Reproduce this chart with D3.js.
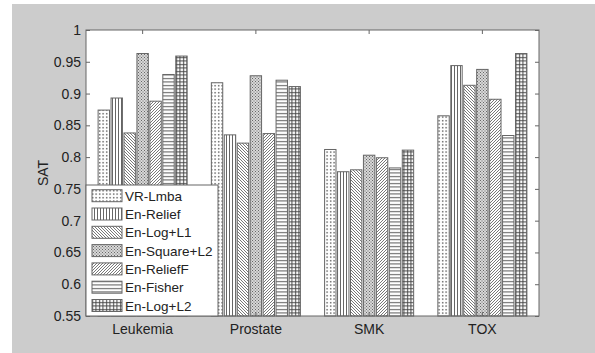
<!DOCTYPE html>
<html><head><meta charset="utf-8">
<script src="https://cdn.jsdelivr.net/npm/d3@7"></script>
<style>body{margin:0;background:#fff;}svg{display:block;}</style>
</head><body>
<script>
const categories = ["Leukemia","Prostate","SMK","TOX"];
const seriesNames = ["VR-Lmba","En-Relief","En-Log+L1","En-Square+L2","En-ReliefF","En-Fisher","En-Log+L2"];
const values = [
  [0.874, 0.917, 0.812, 0.865],  // VR-Lmba
  [0.893, 0.835, 0.777, 0.944],  // En-Relief
  [0.838, 0.822, 0.780, 0.913],  // En-Log+L1
  [0.963, 0.928, 0.803, 0.938],  // En-Square+L2
  [0.888, 0.837, 0.799, 0.891],  // En-ReliefF
  [0.930, 0.921, 0.783, 0.834],  // En-Fisher
  [0.959, 0.911, 0.811, 0.963]   // En-Log+L2
];
const yTicks = [0.55,0.6,0.65,0.7,0.75,0.8,0.85,0.9,0.95,1];

const W=595,H=353;
const svg=d3.select("body").append("svg").attr("width",W).attr("height",H);
svg.append("rect").attr("x",12).attr("y",4).attr("width",W-12).attr("height",H-4).attr("fill","#cccccc");

const L=86,R=539,T=30,B=316;
const x=d3.scaleBand().domain(categories).range([L,R]).padding(0);
const y=d3.scaleLinear().domain([0.55,1]).range([B,T]);
const groupW=x.bandwidth()*0.8;
const xs=d3.scaleBand().domain(d3.range(seriesNames.length)).range([0,groupW]).paddingInner(0.12).paddingOuter(0.06);

const defs=svg.append("defs");
const pc="#555";
function pat(id,size,draw){
  const p=defs.append("pattern").attr("id",id).attr("patternUnits","userSpaceOnUse").attr("width",size).attr("height",size);
  p.append("rect").attr("width",size).attr("height",size).attr("fill","#fff");
  draw(p);
}
// dots
pat("p0",3.5,p=>{p.append("rect").attr("x",1).attr("y",1).attr("width",1.3).attr("height",1.3).attr("fill","#333");});
// vertical lines
pat("p1",3,p=>{p.append("rect").attr("x",1).attr("y",0).attr("width",0.9).attr("height",3).attr("fill",pc);});
// backslash diagonal
pat("p2",3,p=>{p.append("path").attr("d","M-1,-1L4,4M-1,2L1,4M2,-1L4,1").attr("stroke",pc).attr("stroke-width",0.8);});
// dense crosshatch (checker, medium gray)
pat("p3",3,p=>{p.select("rect").attr("fill","#d8d8d8");
  p.append("rect").attr("x",0).attr("y",0).attr("width",1).attr("height",1).attr("fill","#666");
  p.append("rect").attr("x",1.5).attr("y",1.5).attr("width",1).attr("height",1).attr("fill","#666");});
// slash diagonal
pat("p4",3,p=>{p.append("path").attr("d","M-1,4L4,-1M-1,1L1,-1M2,4L4,2").attr("stroke",pc).attr("stroke-width",0.8);});
// horizontal lines
pat("p5",3.5,p=>{p.append("rect").attr("x",0).attr("y",1).attr("width",3.5).attr("height",1).attr("fill",pc);});
// grid
pat("p6",3.5,p=>{p.append("rect").attr("x",0).attr("y",1).attr("width",3.5).attr("height",1).attr("fill","#444");
  p.append("rect").attr("x",1).attr("y",0).attr("width",1).attr("height",3.5).attr("fill","#444");});

svg.append("rect").attr("x",L).attr("y",T).attr("width",R-L).attr("height",B-T).attr("fill","#fff");

const g=svg.append("g");
categories.forEach((c,ci)=>{
  const gx=x(c)+(x.bandwidth()-groupW)/2;
  seriesNames.forEach((s,si)=>{
    const v=values[si][ci];
    g.append("rect").attr("x",gx+xs(si)).attr("y",y(v)).attr("width",xs.bandwidth()).attr("height",B-y(v))
     .attr("fill",`url(#p${si})`).attr("stroke","#666").attr("stroke-width",1);
  });
});

// axes
const fontF="Liberation Sans, Arial, sans-serif";
const axL=svg.append("g").attr("transform",`translate(${L},0)`).call(d3.axisLeft(y).tickValues(yTicks).tickSize(-4).tickPadding(5).tickFormat(d=>d3.format("")(+d.toFixed(2))));
const axR=svg.append("g").attr("transform",`translate(${R},0)`).call(d3.axisRight(y).tickValues(yTicks).tickSize(-4).tickFormat(""));
const axB=svg.append("g").attr("transform",`translate(0,${B})`).call(d3.axisBottom(x).tickSize(-4).tickPadding(8));
const axT=svg.append("g").attr("transform",`translate(0,${T})`).call(d3.axisTop(x).tickSize(-4).tickFormat(""));
[axL,axR,axB,axT].forEach(a=>{a.select(".domain").remove();a.selectAll("line").attr("stroke","#666");
  a.selectAll("text").attr("fill","#222").style("font-family",fontF).style("font-size","14px");});
svg.append("rect").attr("x",L).attr("y",T).attr("width",R-L).attr("height",B-T).attr("fill","none").attr("stroke","#666").attr("stroke-width",1);

svg.append("text").attr("transform",`translate(48,${(T+B)/2}) rotate(-90)`).attr("text-anchor","middle")
  .style("font-family",fontF).style("font-size","14px").attr("fill","#222").text("SAT");

// legend
const lg=svg.append("g");
lg.append("rect").attr("x",L).attr("y",185).attr("width",132).attr("height",B-185).attr("fill","#fff").attr("stroke","#666");
seriesNames.forEach((s,i)=>{
  const cy=195.7+i*18.3;
  lg.append("rect").attr("x",92).attr("y",cy-6).attr("width",30).attr("height",12).attr("fill",`url(#p${i})`).attr("stroke","#666");
  lg.append("text").attr("x",125).attr("y",cy+5).style("font-family",fontF).style("font-size","13.5px").attr("fill","#222").text(s);
});
</script>
</body></html>
